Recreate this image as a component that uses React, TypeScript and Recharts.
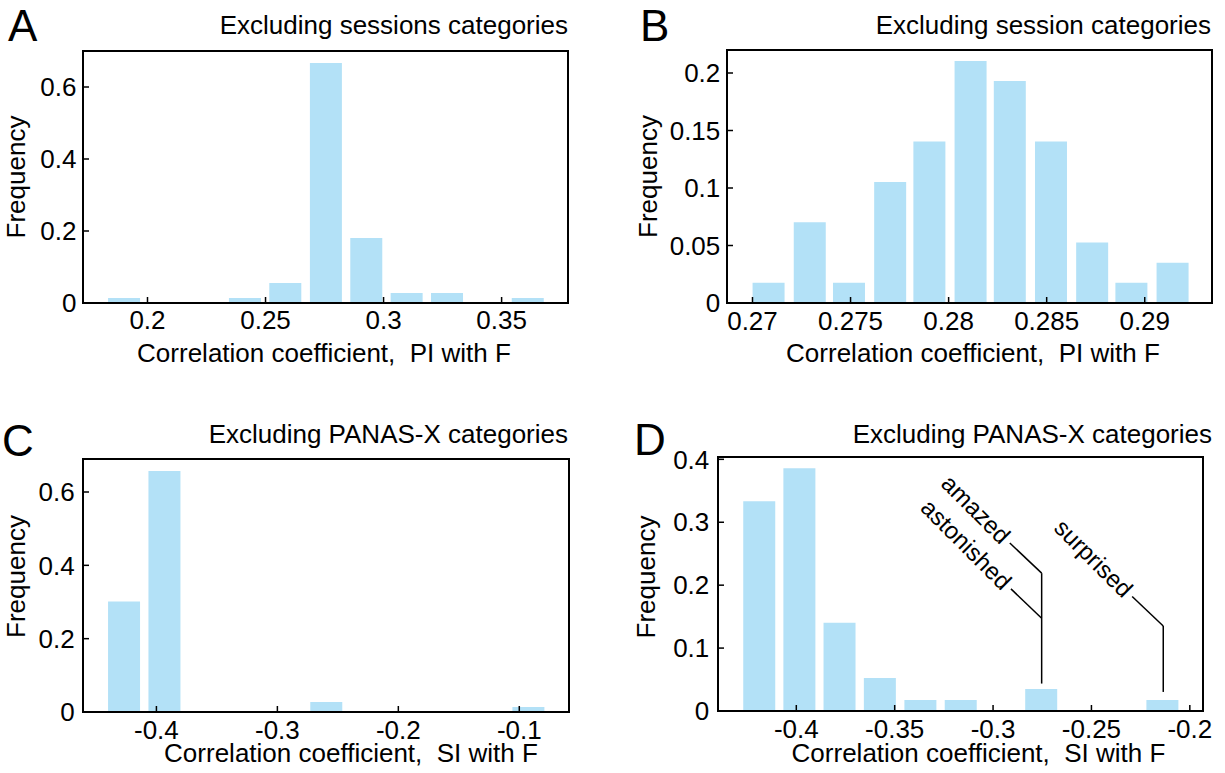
import React from "react";
import { BarChart, Bar, XAxis, YAxis, ReferenceLine, ReferenceDot } from "recharts";

// bin centres and counts
const binsA = [0.1901, 0.2072, 0.2243, 0.2413, 0.2584, 0.2756, 0.2927, 0.3098, 0.3269, 0.344, 0.3611];
const countsA = [1, 0, 0, 1, 4, 48, 13, 2, 2, 0, 1];
const binsB = [0.2708, 0.2729, 0.2749, 0.277, 0.279, 0.2811, 0.2831, 0.2852, 0.2873, 0.2893, 0.2914];
const countsB = [1, 4, 1, 6, 8, 12, 11, 8, 3, 1, 2];
const binsC = [-0.4266, -0.3932, -0.3597, -0.3263, -0.2929, -0.2594, -0.226, -0.1926, -0.1592, -0.1257, -0.0923];
const countsC = [22, 48, 0, 0, 0, 2, 0, 0, 0, 0, 1];
const binsD = [-0.4188, -0.3984, -0.378, -0.3575, -0.3369, -0.3164, -0.296, -0.2755, -0.255, -0.2345, -0.2139];
const countsD = [19, 22, 8, 3, 1, 1, 0, 2, 0, 0, 1];

const xTicksA = [0.2, 0.25, 0.3, 0.35];
const xTicksB = [0.27, 0.275, 0.28, 0.285, 0.29];
const xTicksC = [-0.4, -0.3, -0.2, -0.1];
const xTicksD = [-0.4, -0.35, -0.3, -0.25, -0.2];
const yTicksA = [0, 0.2, 0.4, 0.6];
const yTicksB = [0, 0.05, 0.1, 0.15, 0.2];
const yTicksC = [0, 0.2, 0.4, 0.6];
const yTicksD = [0, 0.1, 0.2, 0.3, 0.4];

// callouts in panel D (data coordinates)
const stemsD = [
  { x: -0.2753, y0: 0.0436, y1: 0.2191 },
  { x: -0.2135, y0: 0.0303, y1: 0.1351 },
];
const armsD = [
  { label: "amazed", x0: -0.2753, y0: 0.2191, x1: -0.2915, y1: 0.267 },
  { label: "astonished", x0: -0.2753, y0: 0.1473, x1: -0.2909, y1: 0.1941 },
  { label: "surprised", x0: -0.2135, y0: 0.1351, x1: -0.2293, y1: 0.1819 },
];

const FONT = "'Liberation Sans', Arial, Helvetica, sans-serif";
const FS = 26;
const BAR = "#b3e1f7";
const axisLine = { stroke: "#000", strokeWidth: 2, strokeLinecap: "square" as const };
const tickLine = { stroke: "#000", strokeWidth: 1.5 };
const tickFont = { fontSize: FS, fill: "#000", fontFamily: FONT };

const xLabel = (text: string, dx: number, off: number) => (props: any) => {
  const vb = props.viewBox;
  return (
    <text x={vb.x + vb.width / 2 + dx} y={vb.y + vb.height - off} textAnchor="middle"
      fontSize={FS} fontFamily={FONT} fill="#000" style={{ whiteSpace: "pre" }}>
      {text}
    </text>
  );
};

const yLabel = (text: string, bx: number, dy: number) => (props: any) => {
  const vb = props.viewBox;
  const cx = vb.x + bx;
  const cy = vb.y + vb.height / 2 + dy;
  return (
    <text x={cx} y={cy} transform={`rotate(-90 ${cx} ${cy})`} textAnchor="middle"
      fontSize={FS} fontFamily={FONT} fill="#000">
      {text}
    </text>
  );
};

const calloutLabel = (text: string) => (props: any) => {
  const { x, y } = props.viewBox;
  const ang = 45;
  const r = (ang * Math.PI) / 180;
  const tx = x - 5 * Math.cos(r);
  const ty = y - 5 * Math.sin(r);
  return (
    <text x={tx} y={ty} transform={`rotate(${ang} ${tx} ${ty})`} textAnchor="end"
      dominantBaseline="central" fontSize={24} fontFamily={FONT} fill="#000">
      {text}
    </text>
  );
};

const panels = [
  {
    id: "A", left: 0, top: 0, width: 600, height: 380, leftW: 83, rightW: 32, topH: 51, bottomH: 77,
    bins: binsA, counts: countsA, xDomain: [0.17268, 0.37812], yDomain: [0, 0.7],
    xTicks: xTicksA, yTicks: yTicksA, xTm: 14, yTm: 12.6,
    xText: "Correlation coefficient,  PI with F", xDx: -1.5, xOff: 18.3, yBx: 25, yDy: 0,
  },
  {
    id: "B", left: 600, top: 0, width: 625, height: 380, leftW: 127, rightW: 13, topH: 50, bottomH: 77,
    bins: binsB, counts: countsB, xDomain: [0.2687, 0.29343], yDomain: [0, 0.22],
    xTicks: xTicksB, yTicks: yTicksB, xTm: 14.5, yTm: 12.7,
    xText: "Correlation coefficient,  PI with F", xDx: 3.5, xOff: 18.3, yBx: 57, yDy: 0,
  },
  {
    id: "C", left: 0, top: 390, width: 600, height: 383, leftW: 83, rightW: 31, topH: 69, bottomH: 61,
    bins: binsC, counts: countsC, xDomain: [-0.4607, -0.0589], yDomain: [0, 0.69],
    xTicks: xTicksC, yTicks: yTicksC, xTm: 14.8, yTm: 14.3,
    xText: "Correlation coefficient,  SI with F", xDx: 25, xOff: 11.5, yBx: 25, yDy: -9,
  },
  {
    id: "D", left: 600, top: 390, width: 625, height: 383, leftW: 118, rightW: 22, topH: 67, bottomH: 62,
    bins: binsD, counts: countsD, xDomain: [-0.4398, -0.1933], yDomain: [0, 0.4037],
    xTicks: xTicksD, yTicks: yTicksD, xTm: 14.2, yTm: 14.7,
    xText: "Correlation coefficient,  SI with F", xDx: 18, xOff: 11.5, yBx: 55, yDy: -7,
  },
];

const titles = [
  { text: "Excluding sessions categories", x: 568, y: 34 },
  { text: "Excluding session categories", x: 1211, y: 33.5 },
  { text: "Excluding PANAS-X categories", x: 568, y: 442.5 },
  { text: "Excluding PANAS-X categories", x: 1212, y: 442.5 },
];
const letters = [
  { text: "A", x: 8, y: 40.5 },
  { text: "B", x: 640, y: 40.5 },
  { text: "C", x: 2, y: 456 },
  { text: "D", x: 634, y: 455 },
];

function Panel({ p }: { p: any }) {
  const total = p.counts.reduce((s: number, c: number) => s + c, 0);
  const data = p.bins.map((x: number, i: number) => ({ x, f: p.counts[i] / total }));
  return (
    <div style={{ position: "absolute", left: p.left, top: p.top }}>
      <BarChart width={p.width} height={p.height} data={data} margin={{ top: 0, right: 0, bottom: 0, left: 0 }}>
        <XAxis xAxisId="b" dataKey="x" type="number" domain={p.xDomain} ticks={p.xTicks} allowDataOverflow
          interval={0} height={p.bottomH} tickSize={-6} tickMargin={p.xTm} axisLine={axisLine}
          tickLine={tickLine} tick={tickFont} label={xLabel(p.xText, p.xDx, p.xOff)} />
        <XAxis xAxisId="t" dataKey="x" type="number" orientation="top" domain={p.xDomain} ticks={p.xTicks}
          allowDataOverflow interval={0} height={p.topH} tickSize={-6} axisLine={axisLine}
          tickLine={tickLine} tick={false} />
        <YAxis yAxisId="l" type="number" domain={p.yDomain} ticks={p.yTicks} allowDataOverflow interval={0}
          width={p.leftW} tickSize={-6} tickMargin={p.yTm} axisLine={axisLine} tickLine={tickLine}
          tick={tickFont} label={yLabel("Frequency", p.yBx, p.yDy)} />
        <YAxis yAxisId="r" type="number" orientation="right" domain={p.yDomain} ticks={p.yTicks}
          allowDataOverflow interval={0} width={p.rightW} tickSize={-6} axisLine={axisLine}
          tickLine={tickLine} tick={false} />
        <Bar xAxisId="b" yAxisId="l" dataKey="f" fill={BAR} barSize={32} isAnimationActive={false} />
        {p.id === "D" &&
          stemsD.map((s, i) => (
            <ReferenceLine key={`s${i}`} xAxisId="b" yAxisId="l" ifOverflow="visible"
              segment={[{ x: s.x, y: s.y0 }, { x: s.x, y: s.y1 }]} stroke="#000" strokeWidth={1.5} />
          ))}
        {p.id === "D" &&
          armsD.map((a, i) => (
            <ReferenceLine key={`a${i}`} xAxisId="b" yAxisId="l" ifOverflow="visible"
              segment={[{ x: a.x0, y: a.y0 }, { x: a.x1, y: a.y1 }]} stroke="#000" strokeWidth={1.5} />
          ))}
        {p.id === "D" &&
          armsD.map((a, i) => (
            <ReferenceDot key={`t${i}`} xAxisId="b" yAxisId="l" x={a.x1} y={a.y1} r={0}
              fill="none" stroke="none" ifOverflow="visible" label={calloutLabel(a.label)} />
          ))}
      </BarChart>
    </div>
  );
}

export default function App() {
  return (
    <div style={{ position: "absolute", left: 0, top: 0, width: 1225, height: 773, background: "#fff", fontFamily: FONT }}>
      {panels.map((p) => (
        <Panel key={p.id} p={p} />
      ))}
      <svg width={1225} height={773} style={{ position: "absolute", left: 0, top: 0, pointerEvents: "none" }}>
        {titles.map((t, i) => (
          <text key={i} x={t.x} y={t.y} textAnchor="end" fontSize={FS} fontFamily={FONT} fill="#000">
            {t.text}
          </text>
        ))}
        {letters.map((t, i) => (
          <text key={i} x={t.x} y={t.y} fontSize={44} fontFamily={FONT} fill="#000">
            {t.text}
          </text>
        ))}
      </svg>
    </div>
  );
}
